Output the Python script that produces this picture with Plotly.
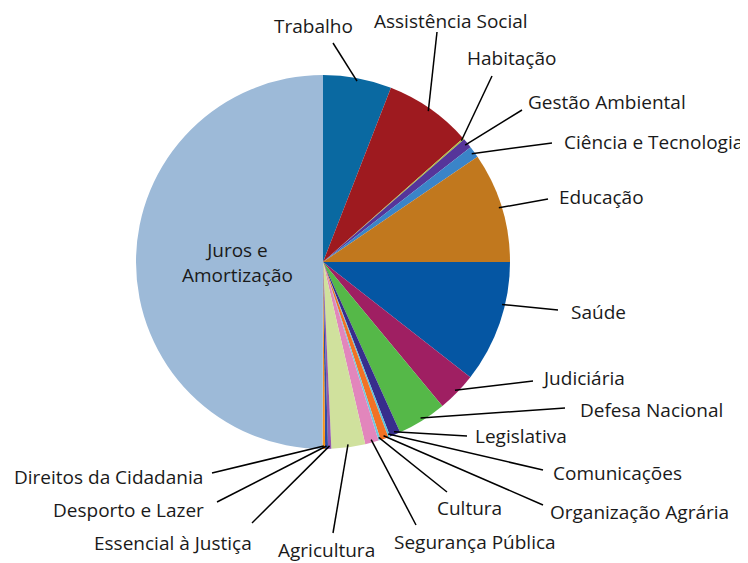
import math
import plotly.graph_objects as go

# ---------------- data ----------------
categories = [
    "Trabalho", "Assistência Social", "Habitação", "Gestão Ambiental",
    "Ciência e Tecnologia", "Educação", "Saúde", "Judiciária",
    "Defesa Nacional", "Legislativa", "Comunicações", "Organização Agrária",
    "Cultura", "Segurança Pública", "Agricultura", "Essencial à Justiça",
    "Desporto e Lazer", "Direitos da Cidadania", "Juros e Amortização",
]
values = [
    5.92, 7.56, 0.14, 0.86,
    1.00, 9.53, 10.56, 3.42,
    4.25, 0.92, 0.17, 0.69,
    0.19, 1.17, 2.92, 0.28,
    0.25, 0.22, 49.97,
]
colors = [
    "#0A69A1", "#9E1A1F", "#AFC23A", "#56359A",
    "#3A84C8", "#C1781E", "#0556A3", "#9F1F62",
    "#55B848", "#372D8C", "#5BC3DE", "#F27224",
    "#6FC8DD", "#E286BC", "#D0E19D", "#9157AE",
    "#2D4CA2", "#F7941D", "#9DBAD8",
]

# ---------------- layout (pixels of the 748x563 page) ----------------
PAGE_W, PAGE_H = 748, 563
OFF = 8                       # page body margin around the figure
W, H = PAGE_W - OFF, PAGE_H - OFF
CX, CY, R = 323, 262, 187
TIP_R = R - 3
FONT = "Open Sans"
FSIZE = 19

# text centre of each label, and the label-side end of its leader line
label_pos = {
    "Trabalho": (313, 26), "Assistência Social": (451, 21),
    "Habitação": (511, 58), "Gestão Ambiental": (607, 102),
    "Ciência e Tecnologia": (653, 142), "Educação": (601, 197),
    "Saúde": (598, 312), "Judiciária": (583, 378),
    "Defesa Nacional": (651, 410), "Legislativa": (521, 436),
    "Comunicações": (617, 473), "Organização Agrária": (639, 512),
    "Cultura": (469, 508), "Segurança Pública": (475, 542),
    "Agricultura": (326, 550), "Essencial à Justiça": (173, 543),
    "Desporto e Lazer": (128, 510), "Direitos da Cidadania": (108, 477),
}
line_start = {
    "Trabalho": (333, 43), "Assistência Social": (437, 32),
    "Habitação": (492, 76), "Gestão Ambiental": (522, 110),
    "Ciência e Tecnologia": (552, 143), "Educação": (548, 199),
    "Saúde": (558, 310), "Judiciária": (533, 381),
    "Defesa Nacional": (565, 408), "Legislativa": (467, 436),
    "Comunicações": (543, 470), "Organização Agrária": (543, 505),
    "Cultura": (447, 492), "Segurança Pública": (416, 525),
    "Agricultura": (333, 533), "Essencial à Justiça": (252, 523),
    "Desporto e Lazer": (217, 502), "Direitos da Cidadania": (212, 473),
}
tip_frac = {"Saúde": 0.35}
inside_label = {"Juros e Amortização": ("Juros e<br>Amortização", (237, 262))}


def px(x):
    return (x - OFF) / W


def py(y):
    return 1 - (y - OFF) / H


fig = go.Figure()
fig.add_trace(go.Pie(
    labels=categories, values=values, sort=False, direction="clockwise",
    rotation=0, marker=dict(colors=colors, line=dict(width=0)),
    textinfo="none", hoverinfo="label+percent", showlegend=False,
    domain=dict(x=[px(CX - R), px(CX + R)], y=[py(CY + R), py(CY - R)]),
))

total = sum(values)
cum = 0.0
shapes, annotations = [], []
for name, v in zip(categories, values):
    f = tip_frac.get(name, 0.5)
    ang = math.radians((cum + f * v) / total * 360.0)
    cum += v
    if name in label_pos:
        tx = CX + TIP_R * math.sin(ang)
        ty = CY - TIP_R * math.cos(ang)
        sx, sy = line_start[name]
        shapes.append(dict(type="line", xref="paper", yref="paper",
                           x0=px(sx), y0=py(sy), x1=px(tx), y1=py(ty),
                           line=dict(color="#000000", width=1.5)))
        lx, ly = label_pos[name]
        annotations.append(dict(text=name, x=px(lx), y=py(ly), xref="paper", yref="paper",
                                showarrow=False, xanchor="center", yanchor="middle",
                                borderpad=0,
                                font=dict(family=FONT, size=FSIZE, color="#1a1a1a")))
    elif name in inside_label:
        t, (lx, ly) = inside_label[name]
        annotations.append(dict(text=t, x=px(lx), y=py(ly), xref="paper", yref="paper",
                                showarrow=False, xanchor="center", yanchor="middle",
                                borderpad=0,
                                font=dict(family=FONT, size=FSIZE, color="#1a1a1a")))

fig.update_layout(
    width=W, height=H, margin=dict(l=0, r=0, t=0, b=0),
    paper_bgcolor="white", plot_bgcolor="white",
    shapes=shapes, annotations=annotations,
    font=dict(family=FONT, size=FSIZE, color="#1a1a1a"),
)
fig.write_html("out.html")
